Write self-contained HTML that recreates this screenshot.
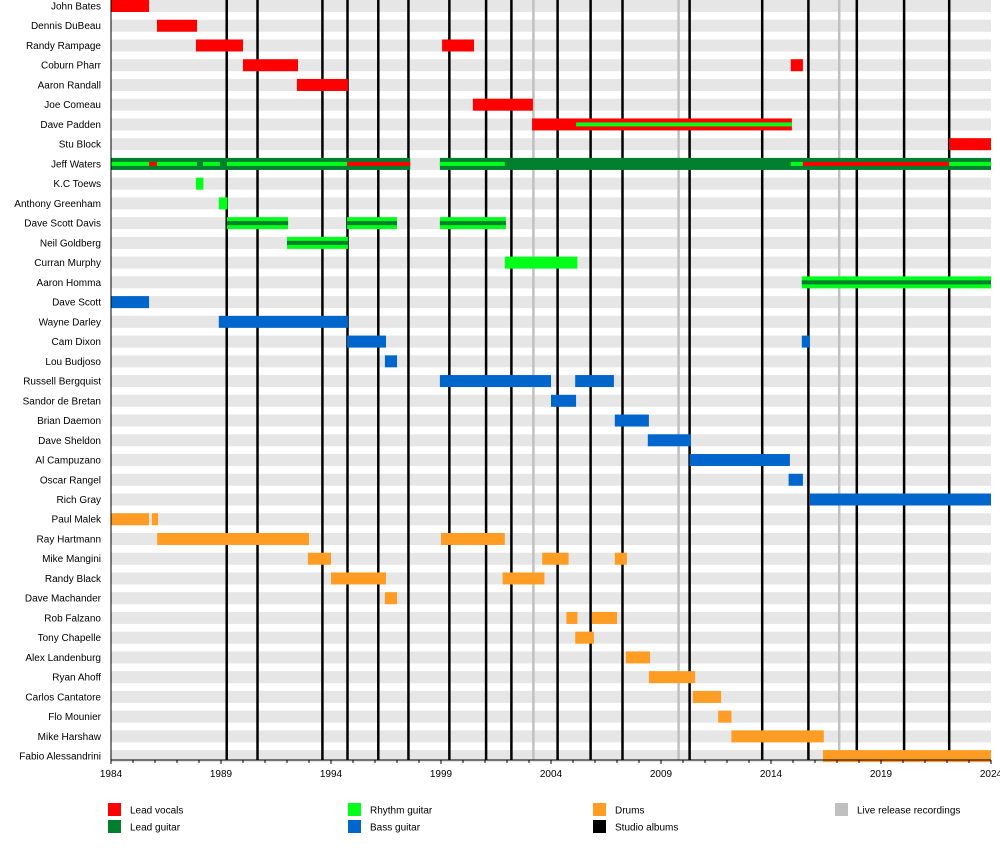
<!DOCTYPE html>
<html><head><meta charset="utf-8"><style>
body{margin:0;background:#fff;font-family:"Liberation Sans",sans-serif;}
svg text{font-family:"Liberation Sans",sans-serif;font-size:10px;fill:#000;}
</style></head><body>
<svg id="chart" width="1000" height="860" xmlns="http://www.w3.org/2000/svg"></svg>
<script>
const members=["John Bates","Dennis DuBeau","Randy Rampage","Coburn Pharr","Aaron Randall","Joe Comeau","Dave Padden","Stu Block","Jeff Waters","K.C Toews","Anthony Greenham","Dave Scott Davis","Neil Goldberg","Curran Murphy","Aaron Homma","Dave Scott","Wayne Darley","Cam Dixon","Lou Budjoso","Russell Bergquist","Sandor de Bretan","Brian Daemon","Dave Sheldon","Al Campuzano","Oscar Rangel","Rich Gray","Paul Malek","Ray Hartmann","Mike Mangini","Randy Black","Dave Machander","Rob Falzano","Tony Chapelle","Alex Landenburg","Ryan Ahoff","Carlos Cantatore","Flo Mounier","Mike Harshaw","Fabio Alessandrini"];
// main bars: [memberIndex, role, start, end]
const mainBars=[
[0,"voc",1984,1985.73],[1,"voc",1986.09,1987.91],[2,"voc",1987.86,1990.0],[2,"voc",1999.05,2000.5],
[3,"voc",1990.0,1992.5],[3,"voc",2014.9,2015.45],[4,"voc",1992.45,1994.77],[5,"voc",2000.45,2003.18],
[6,"voc",2003.14,2014.95],[7,"voc",2022.1,2024],[8,"lead",1984,1997.6],[8,"lead",1998.95,2024],
[9,"rhy",1987.86,1988.2],[10,"rhy",1988.9,1989.3],[11,"rhy",1989.27,1992.05],[11,"rhy",1994.73,1997.0],[11,"rhy",1998.95,2001.95],
[12,"rhy",1992.0,1994.77],[13,"rhy",2001.9,2005.2],[14,"rhy",2015.4,2024],
[15,"bass",1984,1985.73],[16,"bass",1988.9,1994.77],[17,"bass",1994.73,1996.5],[17,"bass",2015.4,2015.77],
[18,"bass",1996.45,1997.0],[19,"bass",1998.95,2004.0],[19,"bass",2005.1,2006.86],[20,"bass",2004.0,2005.14],
[21,"bass",2006.9,2008.45],[22,"bass",2008.4,2010.36],[23,"bass",2010.3,2014.86],[24,"bass",2014.8,2015.45],[25,"bass",2015.77,2024],
[26,"drum",1984,1985.73],[26,"drum",1985.86,1986.14],[27,"drum",1986.1,1993.0],[27,"drum",1999.0,2001.9],
[28,"drum",1992.95,1994.0],[28,"drum",2003.6,2004.8],[28,"drum",2006.9,2007.45],[29,"drum",1994.0,1996.5],[29,"drum",2001.8,2003.7],
[30,"drum",1996.45,1997.0],[31,"drum",2004.7,2005.2],[31,"drum",2005.86,2007.0],[32,"drum",2005.1,2005.95],
[33,"drum",2007.4,2008.5],[34,"drum",2008.45,2010.55],[35,"drum",2010.45,2011.73],[36,"drum",2011.6,2012.2],
[37,"drum",2012.2,2016.4],[38,"drum",2016.36,2024]];
// inner (secondary role) lines: [memberIndex, role, start, end]
const innerBars=[
[6,"rhy",2005.14,2014.95],
[8,"rhy",1984,1987.91],[8,"voc",1985.73,1986.09],[8,"rhy",1988.18,1988.95],[8,"rhy",1989.27,1994.73],[8,"voc",1994.73,1997.6],
[8,"rhy",1998.95,2001.9],[8,"rhy",2014.9,2015.45],[8,"voc",2015.45,2022.1],[8,"rhy",2022.1,2024],
[11,"lead",1989.27,1992.05],[11,"lead",1994.73,1997.0],[11,"lead",1998.95,2001.95],[12,"lead",1992.0,1994.77],[14,"lead",2015.4,2024]];
const studioAlbums=[1989.26,1990.66,1993.61,1994.75,1996.15,1997.52,1999.38,2001.05,2002.2,2004.3,2005.8,2007.25,2010.3,2013.6,2015.7,2017.9,2020.05,2022.1];
const liveAlbums=[2003.2,2009.8,2017.1];
const tickYears=[1984,1989,1994,1999,2004,2009,2014,2019,2024];
const legendLabels=["Lead vocals","Lead guitar","Rhythm guitar","Bass guitar","Drums","Studio albums","Live release recordings"];
const legendRoles=["voc","lead","rhy","bass","drum","studio","live"];

const colors={voc:"#ff0000",lead:"#007f2f",rhy:"#00ff19",bass:"#0066cc",drum:"#ff9c24",studio:"#000000",live:"#c0c0c0"};
const X0=111,X1=991,Y0=1984,Y1=2024;
const xs=v=>X0+(v-Y0)/(Y1-Y0)*(X1-X0);
const rowC=i=>6+i*19.74;
const NS="http://www.w3.org/2000/svg";
const svg=document.getElementById("chart");
function mk(tag,attrs,parent){const e=document.createElementNS(NS,tag);for(const k in attrs)e.setAttribute(k,attrs[k]);(parent||svg).appendChild(e);return e;}

members.forEach((m,i)=>{
  const s=mk("rect",{x:X0,y:rowC(i)-6,width:X1-X0,height:12,fill:"#e6e6e6"});
  
  
  const t=mk("text",{x:101,y:rowC(i)+3.5,"text-anchor":"end"});
  t.textContent=m;
  
  
});
liveAlbums.forEach(v=>{
  const l=mk("line",{x1:xs(v),x2:xs(v),y1:0,y2:760,stroke:colors.live,"stroke-width":2.5});
  
  
});
studioAlbums.forEach(v=>{
  const l=mk("line",{x1:xs(v),x2:xs(v),y1:0,y2:760,stroke:"#000","stroke-width":2.5});
  
  
});
mainBars.forEach(b=>{
  const r=mk("rect",{x:xs(b[2]),y:rowC(b[0])-6,width:xs(b[3])-xs(b[2]),height:12,fill:colors[b[1]]});
  
  
});
innerBars.forEach(b=>{
  const r=mk("rect",{x:xs(b[2]),y:rowC(b[0])-2,width:xs(b[3])-xs(b[2]),height:4,fill:colors[b[1]]});
  
  
});
const ax=mk("line",{x1:X0,x2:X1,y1:760,y2:760,stroke:"#000","stroke-width":1});


const ay=mk("line",{x1:X0,x2:X0,y1:0,y2:760,stroke:"#000","stroke-width":1});


for(let yv=Y0;yv<=Y1;yv++){
  const major=tickYears.includes(yv);
  const tk=mk("line",{x1:xs(yv),x2:xs(yv),y1:760,y2:major?764:763,stroke:"#000","stroke-width":1});
  
  
}
tickYears.forEach(v=>{
  const t=mk("text",{x:xs(v),y:777,"text-anchor":"middle"});
  t.textContent=v;
  
  
});
const legX=[108,108,348,348,593,593,835];
const legY=[803,820,803,820,803,820,803];
legendLabels.forEach((lab,i)=>{
  const g=mk("g",{});
  
  
  mk("rect",{x:legX[i],y:legY[i],width:13,height:13,fill:colors[legendRoles[i]]},g);
  const t=mk("text",{x:legX[i]+22,y:legY[i]+10.5},g);
  t.textContent=lab;
});
</script>
</body></html>
